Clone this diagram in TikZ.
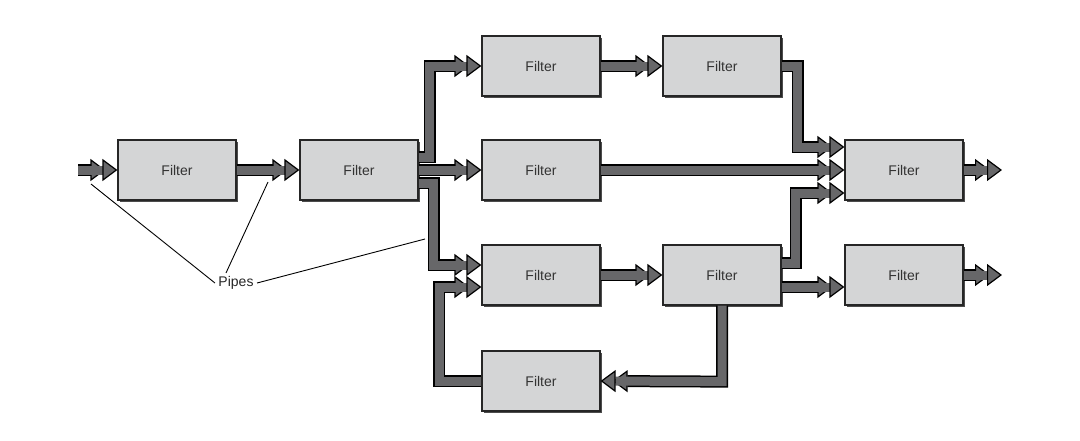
\documentclass[tikz,border=0pt]{standalone}
\usepackage{fontspec}
\setmainfont{Liberation Sans}
\usetikzlibrary{arrows.meta,calc,shadows}
\definecolor{boxgray}{HTML}{D4D5D6}
\definecolor{pipegray}{HTML}{676769}
\begin{document}
\begin{tikzpicture}[x=1pt,y=-1pt,
  filter/.style={draw=black!85,line width=1.2pt,fill=boxgray,minimum width=118pt,minimum height=60pt,
    font=\fontsize{14}{16}\selectfont,text=black!80,
    drop shadow={shadow xshift=1.5pt,shadow yshift=-1.5pt,fill=black!70,opacity=1}},
  pipe/.style={preaction={draw=black,line width=12pt,shorten >=12pt},
    draw=pipegray,line width=9pt,
    -{Triangle[width=22pt,length=15pt,fill=pipegray,color=black,line width=1.2pt]}},
  lbl/.style={line width=0.9pt}]
\useasboundingbox (0,0) rectangle (1080,440);
% Filters
\node[filter] (F1) at (177,170) {Filter};
\node[filter] (F2) at (359,170) {Filter};
\node[filter] (F3) at (541,66) {Filter};
\node[filter] (F4) at (722,66) {Filter};
\node[filter] (F5) at (541,170) {Filter};
\node[filter] (F6) at (904,170) {Filter};
\node[filter] (F7) at (541,275) {Filter};
\node[filter] (F8) at (722,275) {Filter};
\node[filter] (F9) at (904,275) {Filter};
\node[filter] (F10) at (541,381) {Filter};
\coordinate (in) at (78,170);
\coordinate (out1) at (1002,170);
\coordinate (out2) at (1002,275);
% Pipes
\draw[pipe] (in) -- (F1.west);
\draw[pipe] (F1.east) -- (F2.west);
\draw[pipe] ($(F2.east)+(0,-13)$) -- ++(11,0) |- (F3.west);
\draw[pipe] (F2.east) -- (F5.west);
\draw[pipe] ($(F2.east)+(0,13)$) -- ++(15,0) |- ($(F7.west)+(0,-10)$);
\draw[pipe] (F3.east) -- (F4.west);
\draw[pipe] (F4.east) -- ++(16,0) |- ($(F6.west)+(0,-23)$);
\draw[pipe] (F5.east) -- (F6.west);
\draw[pipe] ($(F8.east)+(0,-12)$) -- ++(14,0) |- ($(F6.west)+(0,23)$);
\draw[pipe] ($(F8.east)+(0,12)$) -- ($(F9.west)+(0,12)$);
\draw[pipe] (F6.east) -- (out1);
\draw[pipe] (F9.east) -- (out2);
\draw[pipe] (F7.east) -- (F8.west);
\draw[pipe] (F8.south) ++(0,0) -- ++(0,76) -- (F10.east);
\draw[pipe] (F10.west) -- ++(-42,0) |- ($(F7.west)+(0,12)$);
% Label
\node[font=\fontsize{14}{16}\selectfont,text=black!85] (P) at (236,283) {Pipes};
\coordinate (p1) at (91,184);
\coordinate (p2) at (268,182);
\coordinate (p3) at (425,239);
\draw[lbl] (P.west) -- (p1);
\draw[lbl] ($(P.north)+(-10,0)$) -- (p2);
\draw[lbl] (P.east) -- (p3);
\end{tikzpicture}
\end{document}
